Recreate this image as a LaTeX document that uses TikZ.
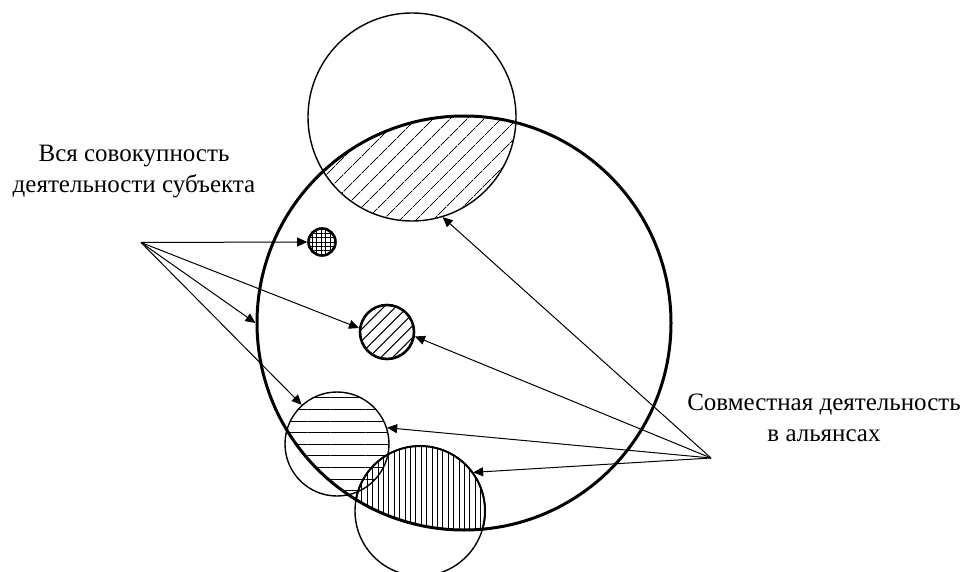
\documentclass[tikz,border=0pt]{standalone}
\usepackage{fontspec}
\setmainfont{Liberation Serif}
\usetikzlibrary{arrows.meta,patterns.meta}

\tikzset{
  ring/.style={circle, draw, inner sep=0pt, line width=0.7pt},
  pointer/.style={-{Triangle[length=5pt,width=4.5pt]}, line width=0.5pt},
  caption/.style={align=center, font=\fontsize{12.5}{15.5}\selectfont}
}

\begin{document}
\begin{tikzpicture}[x=0.5pt, y=-0.5pt]
  \useasboundingbox (0,0) rectangle (968,572);

  % Hatched parts inside the whole
  \begin{scope}
    \clip (464,323) circle[radius=207];
    \path[pattern={Lines[angle=45,distance=6.5pt,line width=0.5pt]}] (412,117) circle[radius=104];
    \path[pattern={Lines[angle=0,distance=5.8pt,line width=0.5pt]}] (337,444) circle[radius=52];
    \path[pattern={Lines[angle=90,distance=2.7pt,line width=0.5pt]}] (420,511) circle[radius=65];
    \draw[line width=1pt] (420,511) circle[radius=65];
  \end{scope}
  \path[pattern={Lines[angle=45,distance=4.2pt,line width=0.5pt]}] (387,332) circle[radius=27];
  \path[pattern={Hatch[angle=0,distance=2.2pt,line width=0.4pt]}] (322,242) circle[radius=13.5];

  % Circles
  \node[ring, line width=1.5pt, minimum size=207pt] (whole) at (464,323) {};
  \node[ring, minimum size=104pt] (upper) at (412,117) {};
  \node[ring, line width=1.3pt, minimum size=27pt] (mid) at (387,332) {};
  \node[ring, line width=1.3pt, minimum size=13.5pt] (dot) at (322,242) {};
  \node[ring, minimum size=52pt] (lower) at (337,444) {};
  \node[ring, minimum size=65pt] (bottom) at (420,511) {};

  % Labels
  \node[caption] (whole-label) at (134,172) {Вся совокупность\\деятельности субъекта};
  \node[caption] (joint-label) at (824,418) {Совместная деятельность\\в альянсах};

  % Pointers
  \coordinate (from-whole) at (141,242.5);
  \coordinate (from-joint) at (711,458);
  \foreach \t in {dot.west, whole.180, mid.172, lower.132}
    \draw[pointer] (from-whole) -- (\t);
  \foreach \t in {upper.-73, mid.-9, lower.18, bottom.36}
    \draw[pointer] (from-joint) -- (\t);
\end{tikzpicture}
\end{document}
